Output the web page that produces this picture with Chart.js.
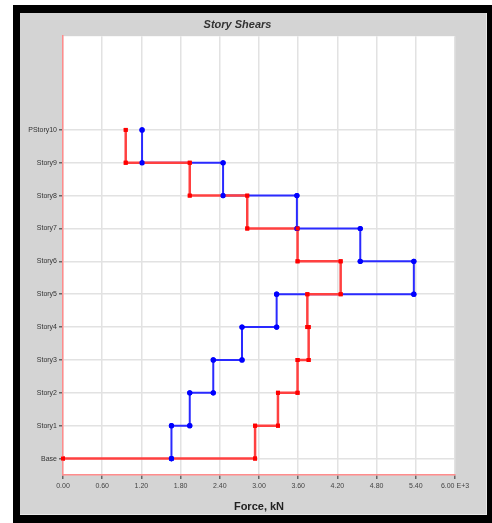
<!DOCTYPE html>
<html>
<head>
<meta charset="utf-8">
<script src="https://cdn.jsdelivr.net/npm/chart.js@4"></script>
<style>
  body { margin: 0; background: #fff; }
  #frame { position: absolute; left: 13px; top: 5px; width: 479px; height: 518px; background: #000; }
  #panel { position: absolute; left: 7px; top: 8px; width: 466px; height: 501px; background: #d4d4d4;
           border-right: 1px solid #e8e8e8; border-bottom: 1px solid #e8e8e8; }
  canvas { display: block; }
</style>
</head>
<body>
<div id="frame"><div id="panel"><canvas id="shears" width="466" height="501"></canvas></div></div>
<script>
/* ========= DATA ========= */
// levels from top to bottom
const levels = ["PStory10", "Story9", "Story8", "Story7", "Story6", "Story5",
                "Story4", "Story3", "Story2", "Story1", "Base"];
// story shear (E+3 kN) at each level, top to bottom
const shearBlue = [1.21, 2.45, 3.58, 4.55, 5.37, 3.27, 2.74, 2.30, 1.94, 1.66, 1.66];
const shearRed  = [0.96, 1.94, 2.82, 3.59, 4.25, 3.74, 3.76, 3.59, 3.29, 2.94, 0.00];
const xTicks = [0, 0.6, 1.2, 1.8, 2.4, 3.0, 3.6, 4.2, 4.8, 5.4, 6.0];

/* ========= STEPS ========= */
function levelY(i) { return levels.length - 1 - i; }

function steps(v) {
  const pts = [{ x: v[0], y: levelY(0) }];
  for (let j = 1; j < levels.length; j++) {
    pts.push({ x: v[j - 1], y: levelY(j) });
    pts.push({ x: v[j], y: levelY(j) });
  }
  return pts;
}

const plotBg = {
  id: "plotBg",
  beforeDraw(chart) {
    const a = chart.chartArea, ctx = chart.ctx;
    ctx.save();
    ctx.fillStyle = "#fff";
    ctx.fillRect(a.left, a.top, a.right - a.left, a.bottom - a.top);
    ctx.restore();
  },
  // markers sit on top of every line
  afterDatasetsDraw(chart) {
    [1, 0].forEach(i => {
      chart.getDatasetMeta(i).data.forEach(p => p.draw(chart.ctx, chart.chartArea));
    });
  }
};

const font = "'Liberation Sans', Arial, sans-serif";

new Chart(document.getElementById("shears"), {
  type: "scatter",
  data: {
    datasets: [{
      data: steps(shearRed),
      showLine: true,
      borderColor: "#ff4040",
      backgroundColor: "#ff0000",
      borderWidth: 2.5,
      pointStyle: "rect",
      pointRadius: 2.8,
      pointBorderWidth: 0,
      tension: 0
    }, {
      data: steps(shearBlue),
      showLine: true,
      borderColor: "#2a2aff",
      backgroundColor: "#0000ff",
      borderWidth: 2,
      pointRadius: 2.6,
      pointBorderWidth: 0,
      tension: 0
    }]
  },
  options: {
    responsive: false,
    animation: false,
    layout: { padding: { left: 0, right: 31, top: 0, bottom: 0 } },
    plugins: {
      legend: { display: false },
      tooltip: { enabled: false },
      title: {
        display: true,
        text: "Story Shears",
        color: "#333",
        font: { family: font, size: 11, weight: "bold", style: "italic" },
        padding: { top: 5, bottom: 5 }
      }
    },
    scales: {
      x: {
        type: "linear",
        min: 0,
        max: 6,
        afterBuildTicks: s => { s.ticks = xTicks.map(v => ({ value: v })); },
        afterFit: s => { s.height = 39; },
        ticks: {
          color: "#444",
          font: { family: font, size: 7 },
          padding: 3,
          maxRotation: 0,
          autoSkip: false,
          callback: v => v >= 5.99 ? "6.00 E+3" : v.toFixed(2)
        },
        grid: { color: "#e2e2e2", lineWidth: 1.5, tickColor: "#666", tickLength: 4 },
        border: { color: "#ff8c8c", width: 1.5 },
        title: {
          display: true,
          text: "Force, kN",
          color: "#222",
          font: { family: font, size: 11, weight: "bold" },
          padding: { top: 4, bottom: 0 }
        }
      },
      y: {
        type: "linear",
        min: -0.5,
        max: 12.85,
        afterBuildTicks: s => { s.ticks = levels.map((l, i) => ({ value: levelY(i) })); },
        afterFit: s => { s.width = 43; },
        ticks: {
          color: "#333",
          font: { family: font, size: 7 },
          padding: 2,
          autoSkip: false,
          callback: v => levels[levels.length - 1 - v]
        },
        grid: { color: "#e2e2e2", lineWidth: 1.5, tickColor: "#666", tickLength: 4 },
        border: { color: "#ff8c8c", width: 1.5 }
      }
    }
  },
  plugins: [plotBg]
});
</script>
</body>
</html>
